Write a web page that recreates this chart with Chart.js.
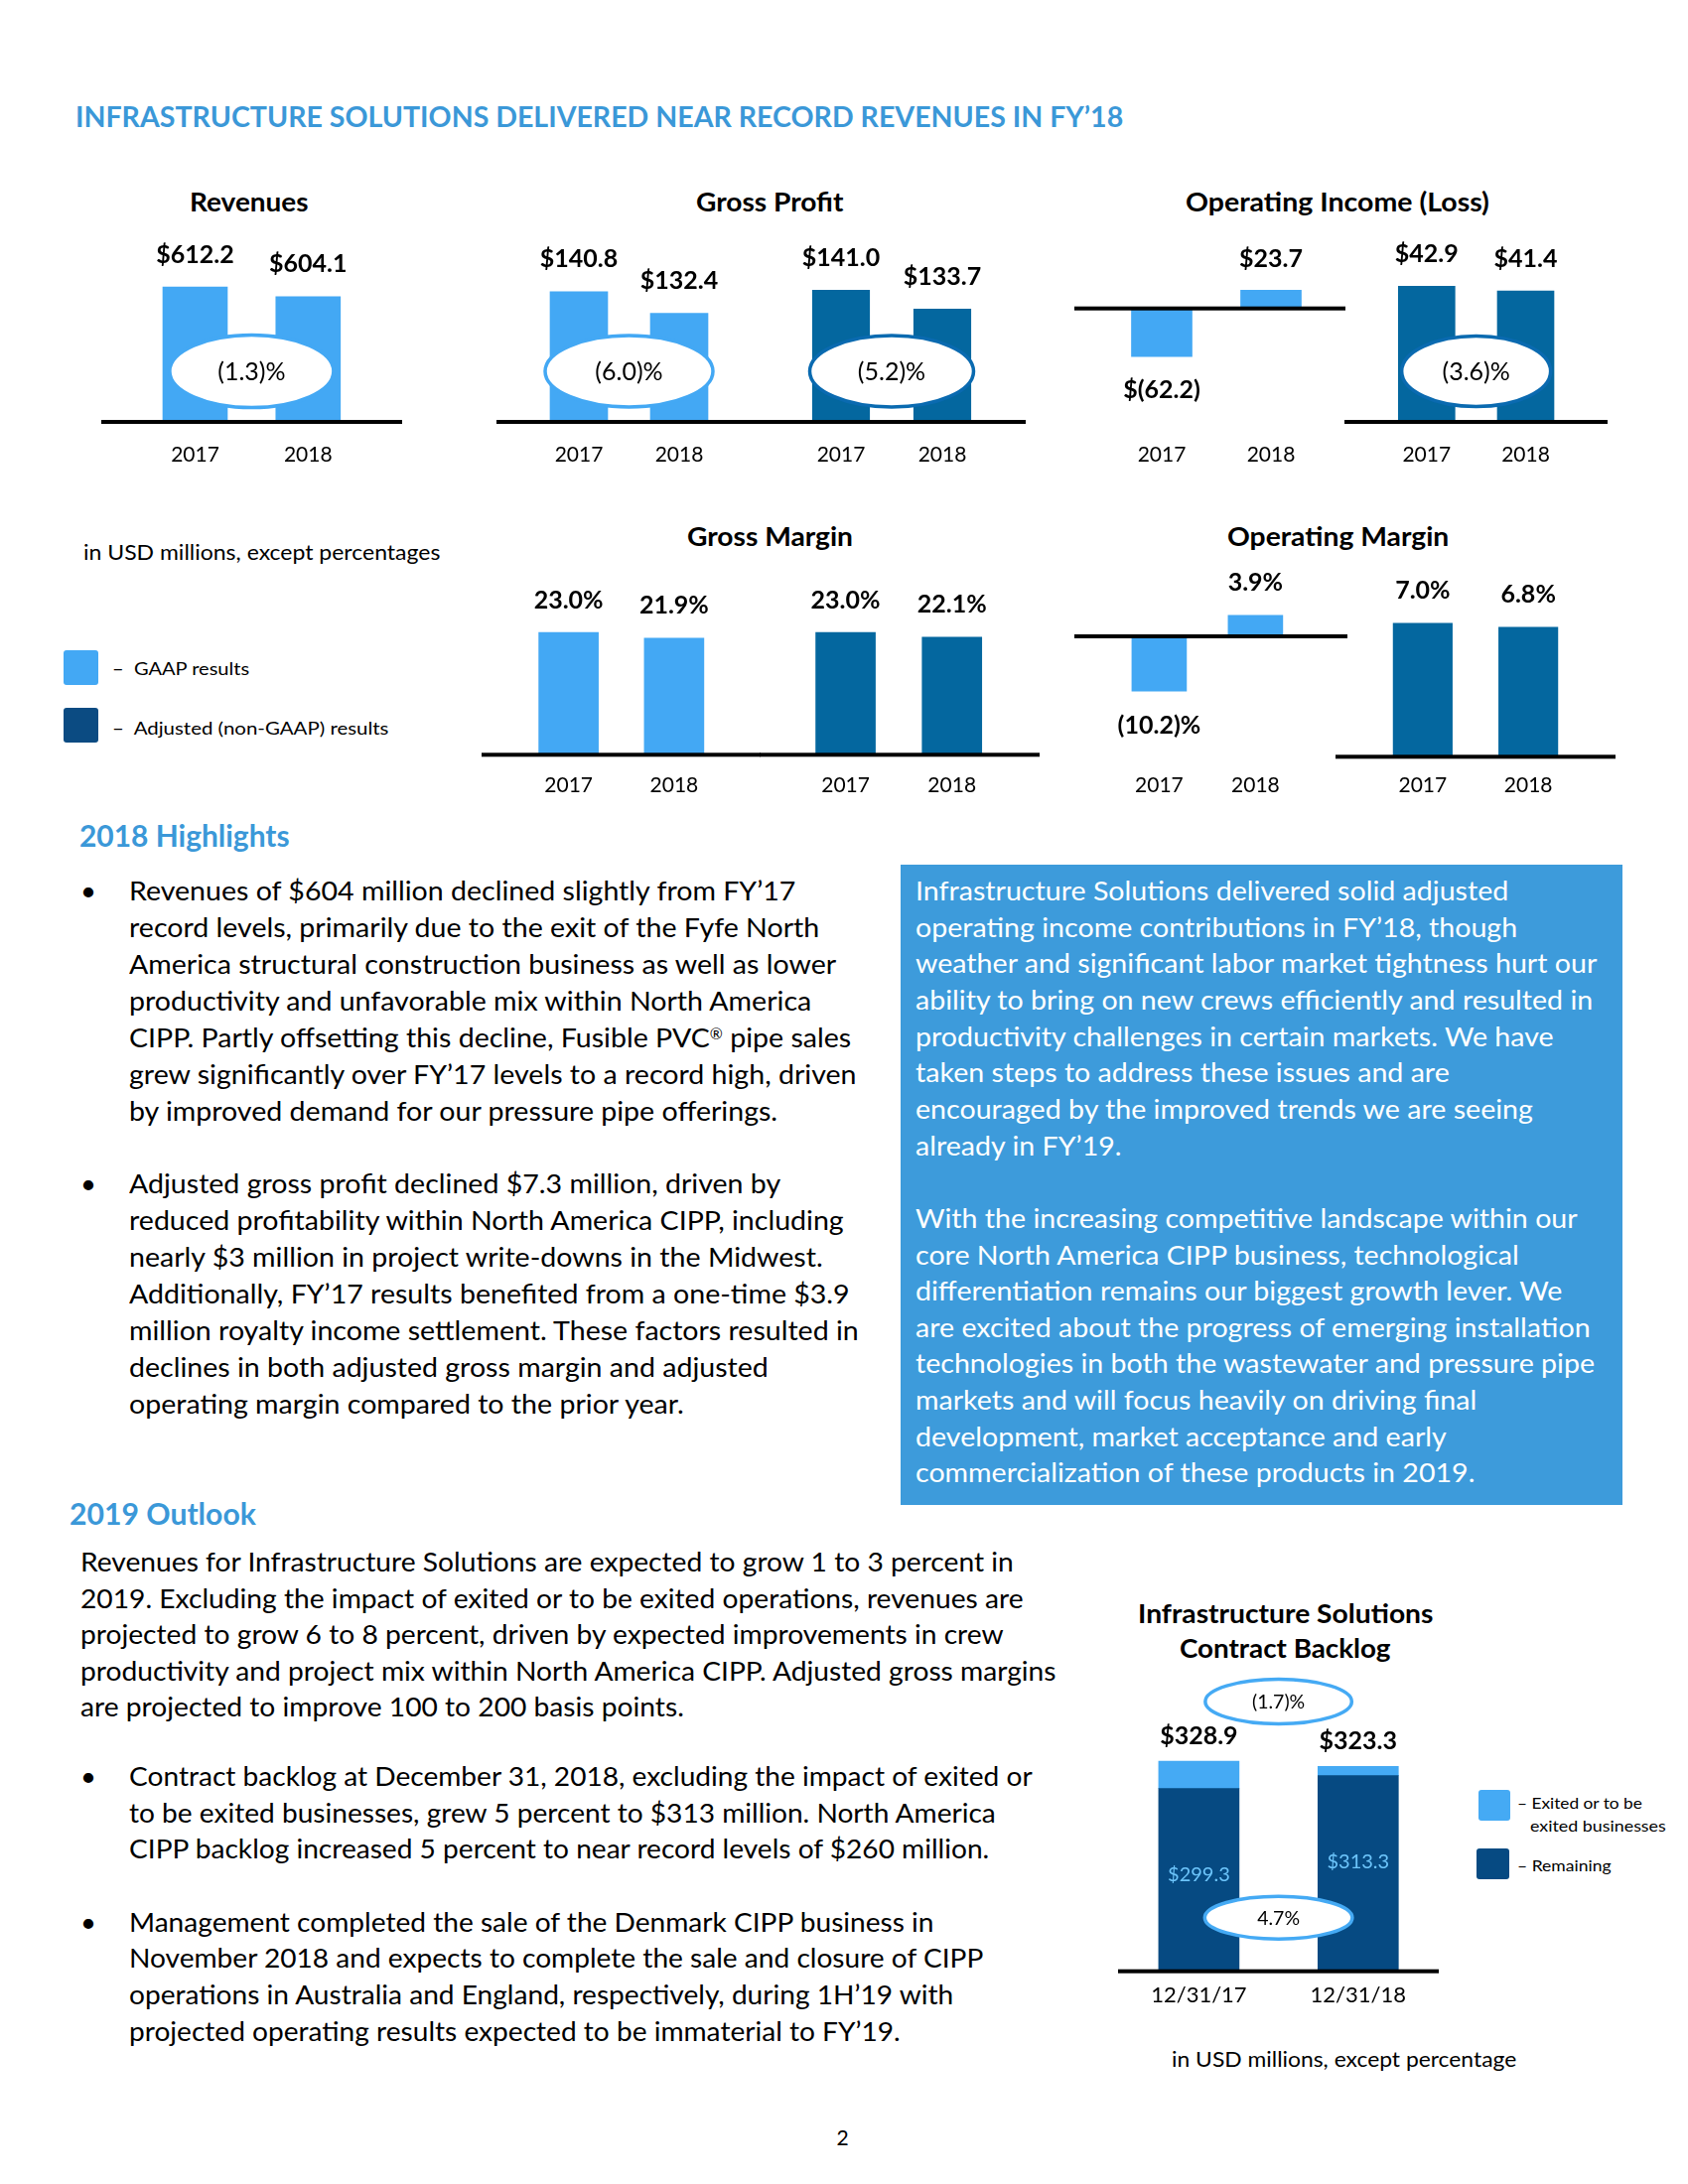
<!DOCTYPE html>
<html><head><meta charset="utf-8">
<script src="https://cdn.jsdelivr.net/npm/chart.js@4.4.1/dist/chart.umd.min.js"></script>
<style>
html,body{margin:0;padding:0;background:#fff;}
#page{position:relative;width:1700px;height:2200px;overflow:hidden;background:#fff;font-family:Lato,'Open Sans',sans-serif;}
.t{position:absolute;white-space:nowrap;line-height:1;transform-origin:0 0;}
canvas{position:absolute;}
.sq{position:absolute;border-radius:3px;}
#box{position:absolute;left:907px;top:871px;width:727px;height:645px;background:#3D9BDB;}
.reg{font-size:0.55em;vertical-align:0.5em;line-height:1;}
</style></head>
<body><div id="page"><div id="box"></div></div>
<script>
// ---------------- DATA ----------------
const years = ['2017', '2018'];
const revenues = [612.2, 604.1];
const grossProfitGaap = [140.8, 132.4];
const grossProfitAdj = [141.0, 133.7];
const opIncomeGaap = [-62.2, 23.7];
const opIncomeAdj = [42.9, 41.4];
const grossMarginGaap = [23.0, 21.9];
const grossMarginAdj = [23.0, 22.1];
const opMarginGaap = [-10.2, 3.9];
const opMarginAdj = [7.0, 6.8];
const revenueChange = '(1.3)%';
const grossProfitGaapChange = '(6.0)%';
const grossProfitAdjChange = '(5.2)%';
const opIncomeAdjChange = '(3.6)%';
const backlogDates = ['12/31/17', '12/31/18'];
const backlogRemaining = [299.3, 313.3];
const backlogExited = [29.6, 10.0];
const backlogTotal = [328.9, 323.3];
const backlogTotalChange = '(1.7)%';
const backlogRemainingChange = '4.7%';

// ---------------- STYLE ----------------
const LIGHT = '#43A8F4', DARK = '#04679F', DARK_ELL = '#0A6AB0', LEG_DARK = '#0B4B82';
const BL_DARK = '#064A82', BL_LIGHT = '#45AAF4', BL_INNER = '#6CC4FA';
const HEAD_BLUE = '#3B98D8';
const FONT = 'Lato';

const money = v => v < 0 ? '$(' + Math.abs(v).toFixed(1) + ')' : '$' + v.toFixed(1);
const pct = v => v < 0 ? '(' + Math.abs(v).toFixed(1) + ')%' : v.toFixed(1) + '%';

const page = document.getElementById('page');

function ctext(ctx, t, x, cy, size, weight, color) {
  ctx.font = weight + ' ' + size + 'px ' + FONT;
  ctx.fillStyle = color;
  ctx.textAlign = 'center';
  ctx.textBaseline = 'alphabetic';
  ctx.fillText(t, x, cy + 0.36 * size);
}

function makeDeco(s) {
  return {
    id: 'deco_' + s.id,
    afterDatasetsDraw(chart) {
      const ctx = chart.ctx, xs = chart.scales.x, ys = chart.scales.y;
      ctx.save();
      const midX = (xs.getPixelForValue(0) + xs.getPixelForValue(1)) / 2;
      (s.ells || []).forEach(e => {
        ctx.beginPath();
        ctx.ellipse(midX, e.y - s.T, e.w / 2, e.h / 2, 0, 0, Math.PI * 2);
        ctx.fillStyle = '#fff';
        ctx.fill();
        ctx.lineWidth = 3.5;
        ctx.strokeStyle = e.stroke;
        ctx.stroke();
        ctext(ctx, e.text, midX, e.y - s.T, e.size, 400, '#000');
      });
      const ly = ys.getPixelForValue(s.baseVal);
      ctx.fillStyle = '#000';
      ctx.fillRect(0, ly - 2, chart.width, 4);
      const topMeta = chart.getDatasetMeta(chart.data.datasets.length - 1);
      s.values.forEach((v, i) => {
        const el = topMeta.data[i];
        const y = v < 0 ? el.y + s.off : el.y - s.off;
        ctext(ctx, s.fmt(v), el.x, y, s.labelSize || 25, 700, '#000');
      });
      if (s.inner) {
        const m0 = chart.getDatasetMeta(0);
        s.inner.forEach((v, i) => {
          const el = m0.data[i];
          ctext(ctx, money(v), el.x, el.y + 86, 20, 400, BL_INNER);
        });
      }
      s.labels.forEach((lab, i) => {
        ctext(ctx, lab, xs.getPixelForValue(i), s.tickY - s.T, s.tickSize || 21, 400, '#000');
      });
      ctx.restore();
    }
  };
}

function makeChart(s) {
  const cv = document.createElement('canvas');
  const W = Math.round(s.R - s.L), H = Math.round(s.B - s.T);
  cv.width = W; cv.height = H;
  cv.style.left = s.L + 'px'; cv.style.top = s.T + 'px';
  cv.style.width = W + 'px'; cv.style.height = H + 'px';
  page.appendChild(cv);
  const Wa = 2 * (s.c[1] - s.c[0]);
  const aL = s.c[0] - Wa / 4, aR = aL + Wa;
  const aT = s.top, aB = s.bottom !== undefined ? s.bottom : s.basePx;
  const max = s.baseVal + (s.basePx - aT) / s.k;
  const min = s.baseVal - (aB - s.basePx) / s.k;
  new Chart(cv, {
    type: 'bar',
    data: {
      labels: s.labels,
      datasets: s.datasets.map(d => Object.assign({
        data: d.data, backgroundColor: d.color, barThickness: s.bw,
        borderWidth: 0, clip: 0
      }, s.stacked ? {} : {base: s.baseVal}))
    },
    options: {
      responsive: false, animation: false, devicePixelRatio: 1,
      layout: {padding: {left: aL - s.L, right: s.R - aR, top: aT - s.T, bottom: s.B - aB}},
      scales: {
        x: {display: false, stacked: !!s.stacked},
        y: {display: false, min: min, max: max, stacked: !!s.stacked}
      },
      plugins: {legend: {display: false}, tooltip: {enabled: false}}
    },
    plugins: [makeDeco(s)]
  });
}

const row1 = {T: 225, B: 480, tickY: 457, top: 232, off: 33.5};
const row2 = {T: 565, B: 815, tickY: 790.7, top: 572, off: 33.5};

const specs = [
  Object.assign({}, row1, {id: 'rev', L: 102, R: 405, c: [196.5, 310.3], bw: 65, basePx: 425, baseVal: 500, k: 1.212,
    labels: years, values: revenues, fmt: money, datasets: [{data: revenues, color: LIGHT}],
    ells: [{y: 374, w: 165, h: 73, stroke: LIGHT, text: revenueChange, size: 25}]}),
  Object.assign({}, row1, {id: 'gpg', L: 500, R: 763, c: [583, 684], bw: 58, basePx: 425, baseVal: 90, k: 2.58,
    labels: years, values: grossProfitGaap, fmt: money, datasets: [{data: grossProfitGaap, color: LIGHT}],
    ells: [{y: 374, w: 169, h: 72, stroke: LIGHT, text: grossProfitGaapChange, size: 25}]}),
  Object.assign({}, row1, {id: 'gpa', L: 763, R: 1033, c: [847, 949], bw: 57.5, basePx: 425, baseVal: 90, k: 2.6,
    labels: years, values: grossProfitAdj, fmt: money, datasets: [{data: grossProfitAdj, color: DARK}],
    ells: [{y: 374, w: 165, h: 72, stroke: DARK_ELL, text: grossProfitAdjChange, size: 25}]}),
  Object.assign({}, row1, {id: 'oig', L: 1082, R: 1355, c: [1170, 1280], bw: 61, basePx: 310.7, baseVal: 0, k: 0.78, bottom: 475,
    labels: years, values: opIncomeGaap, fmt: money, datasets: [{data: opIncomeGaap, color: LIGHT}], off: 32.5}),
  Object.assign({}, row1, {id: 'oia', L: 1354, R: 1619, c: [1436.8, 1536.5], bw: 57, basePx: 425, baseVal: 0, k: 3.185,
    labels: years, values: opIncomeAdj, fmt: money, datasets: [{data: opIncomeAdj, color: DARK}],
    ells: [{y: 374, w: 150, h: 71, stroke: DARK_ELL, text: opIncomeAdjChange, size: 25}]}),
  Object.assign({}, row2, {id: 'gmg', L: 484.5, R: 765, c: [572, 678], bw: 60, basePx: 760.3, baseVal: 0, k: 5.36,
    labels: years, values: grossMarginGaap, fmt: pct, datasets: [{data: grossMarginGaap, color: LIGHT}]}),
  Object.assign({}, row2, {id: 'gma', L: 765, R: 1046.7, c: [851.5, 958.5], bw: 60, basePx: 760.3, baseVal: 0, k: 5.36,
    labels: years, values: grossMarginAdj, fmt: pct, datasets: [{data: grossMarginAdj, color: DARK}]}),
  Object.assign({}, row2, {id: 'omg', L: 1081.5, R: 1356, c: [1166.8, 1263.5], bw: 55, basePx: 641, baseVal: 0, k: 5.4, bottom: 810,
    labels: years, values: opMarginGaap, fmt: pct, datasets: [{data: opMarginGaap, color: LIGHT}]}),
  Object.assign({}, row2, {id: 'oma', L: 1345, R: 1626.8, c: [1432.8, 1539], bw: 59.5, basePx: 762.3, baseVal: 0, k: 19.2,
    labels: years, values: opMarginAdj, fmt: pct, datasets: [{data: opMarginAdj, color: DARK}]}),
  {id: 'bl', T: 1680, B: 2030, L: 1126, R: 1449, top: 1695, tickY: 2009.3, off: 26, tickSize: 22,
    c: [1207.4, 1367.8], bw: 81, basePx: 1985.7, baseVal: 100, k: 0.924, stacked: true,
    labels: backlogDates, values: backlogTotal, fmt: money, inner: backlogRemaining,
    datasets: [{data: backlogRemaining, color: BL_DARK}, {data: backlogExited, color: BL_LIGHT}],
    ells: [{y: 1714, w: 147.5, h: 45, stroke: BL_LIGHT, text: backlogTotalChange, size: 19.5},
           {y: 1931.7, w: 148.6, h: 43, stroke: BL_LIGHT, text: backlogRemainingChange, size: 19.5}]}
];
specs.forEach(makeChart);

// ---------------- TEXT ----------------
function addText(html, o) {
  const el = document.createElement('div');
  el.className = 't';
  el.innerHTML = html;
  el.style.fontSize = o.size + 'px';
  el.style.fontWeight = o.weight || 400;
  el.style.color = o.color || '#000';
  el.style.left = '0px';
  el.style.top = (o.cy - 0.53 * o.size) + 'px';
  page.appendChild(el);
  return el;
}
function text(html, o) {
  const el = addText(html, o);
  const nat = el.offsetWidth;
  const sx = o.w ? o.w / nat : 1;
  el.style.left = (o.align === 'center' ? o.x - nat * sx / 2 : o.x) + 'px';
  el.style.transform = 'scaleX(' + sx + ')';
}
function block(lines, o) {
  const els = lines.map((ln, i) => ln ? addText(ln, Object.assign({}, o, {cy: o.y0 + i * o.step})) : null);
  const sx = o.refW / els[o.ref].offsetWidth;
  els.forEach(el => { if (el) { el.style.left = o.x + 'px'; el.style.transform = 'scaleX(' + sx + ')'; } });
  (o.bullets || []).forEach(i => text('•', {x: 89, cy: o.y0 + i * o.step, size: o.size, align: 'center', color: o.color}));
}

text('INFRASTRUCTURE SOLUTIONS DELIVERED NEAR RECORD REVENUES IN FY’18', {x: 76, cy: 118, size: 28, weight: 700, color: HEAD_BLUE, w: 1055});

text('Revenues', {x: 251, cy: 203, size: 27, weight: 700, w: 120, align: 'center'});
text('Gross Profit', {x: 775.6, cy: 203, size: 27, weight: 700, w: 149, align: 'center'});
text('Operating Income (Loss)', {x: 1346.7, cy: 203, size: 27, weight: 700, w: 306, align: 'center'});
text('Gross Margin', {x: 775, cy: 540, size: 27, weight: 700, w: 167, align: 'center'});
text('Operating Margin', {x: 1347.5, cy: 540, size: 27, weight: 700, w: 223, align: 'center'});

text('in USD millions, except percentages', {x: 84, cy: 556, size: 21, w: 359});
const sq = (l, t, w, h, c) => { const d = document.createElement('div'); d.className = 'sq';
  Object.assign(d.style, {left: l + 'px', top: t + 'px', width: w + 'px', height: h + 'px', background: c}); page.appendChild(d); };
sq(64, 655, 35, 35, LIGHT);
sq(64, 713, 35, 35, LEG_DARK);
text('–&nbsp; GAAP results', {x: 113, cy: 674, size: 17, w: 138});
text('–&nbsp; Adjusted (non-GAAP) results', {x: 113, cy: 734, size: 17, w: 279});

text('2018 Highlights', {x: 80, cy: 843, size: 29.5, weight: 700, color: HEAD_BLUE, w: 212});
block([
  'Revenues of $604 million declined slightly from FY’17',
  'record levels, primarily due to the exit of the Fyfe North',
  'America structural construction business as well as lower',
  'productivity and unfavorable mix within North America',
  'CIPP. Partly offsetting this decline, Fusible PVC<span class="reg">®</span> pipe sales',
  'grew significantly over FY’17 levels to a record high, driven',
  'by improved demand for our pressure pipe offerings.',
  '',
  'Adjusted gross profit declined $7.3 million, driven by',
  'reduced profitability within North America CIPP, including',
  'nearly $3 million in project write-downs in the Midwest.',
  'Additionally, FY’17 results benefited from a one-time $3.9',
  'million royalty income settlement. These factors resulted in',
  'declines in both adjusted gross margin and adjusted',
  'operating margin compared to the prior year.'
], {x: 130.4, y0: 897.7, step: 36.9, size: 27.5, ref: 12, refW: 735, bullets: [0, 8]});

block([
  'Infrastructure Solutions delivered solid adjusted',
  'operating income contributions in FY’18, though',
  'weather and significant labor market tightness hurt our',
  'ability to bring on new crews efficiently and resulted in',
  'productivity challenges in certain markets. We have',
  'taken steps to address these issues and are',
  'encouraged by the improved trends we are seeing',
  'already in FY’19.',
  '',
  'With the increasing competitive landscape within our',
  'core North America CIPP business, technological',
  'differentiation remains our biggest growth lever. We',
  'are excited about the progress of emerging installation',
  'technologies in both the wastewater and pressure pipe',
  'markets and will focus heavily on driving final',
  'development, market acceptance and early',
  'commercialization of these products in 2019.'
], {x: 921.5, y0: 897.7, step: 36.64, size: 27.5, ref: 2, refW: 686, color: '#fff'});

text('2019 Outlook', {x: 70, cy: 1526, size: 29.5, weight: 700, color: HEAD_BLUE, w: 188});
block([
  'Revenues for Infrastructure Solutions are expected to grow 1 to 3 percent in',
  '2019. Excluding the impact of exited or to be exited operations, revenues are',
  'projected to grow 6 to 8 percent, driven by expected improvements in crew',
  'productivity and project mix within North America CIPP. Adjusted gross margins',
  'are projected to improve 100 to 200 basis points.'
], {x: 81.4, y0: 1573.7, step: 36.5, size: 27.5, ref: 3, refW: 983});
block([
  'Contract backlog at December 31, 2018, excluding the impact of exited or',
  'to be exited businesses, grew 5 percent to $313 million. North America',
  'CIPP backlog increased 5 percent to near record levels of $260 million.',
  '',
  'Management completed the sale of the Denmark CIPP business in',
  'November 2018 and expects to complete the sale and closure of CIPP',
  'operations in Australia and England, respectively, during 1H’19 with',
  'projected operating results expected to be immaterial to FY’19.'
], {x: 130.4, y0: 1789.7, step: 36.67, size: 27.5, ref: 0, refW: 910, bullets: [0, 4]});

text('Infrastructure Solutions', {x: 1294.4, cy: 1625, size: 27, weight: 700, w: 297, align: 'center'});
text('Contract Backlog', {x: 1294.4, cy: 1660, size: 27, weight: 700, w: 212, align: 'center'});
sq(1489, 1803, 32, 31, BL_LIGHT);
sq(1487, 1862, 33, 31, BL_DARK);
text('– Exited or to be', {x: 1527.6, cy: 1817.3, size: 15.5, w: 126});
text('exited businesses', {x: 1540.8, cy: 1840, size: 15.5, w: 137});
text('– Remaining', {x: 1527.6, cy: 1880, size: 15.5, w: 95});
text('in USD millions, except percentage', {x: 1179.6, cy: 2074.3, size: 21, w: 347});
text('2', {x: 848.6, cy: 2153, size: 21, align: 'center'});
</script></body></html>
